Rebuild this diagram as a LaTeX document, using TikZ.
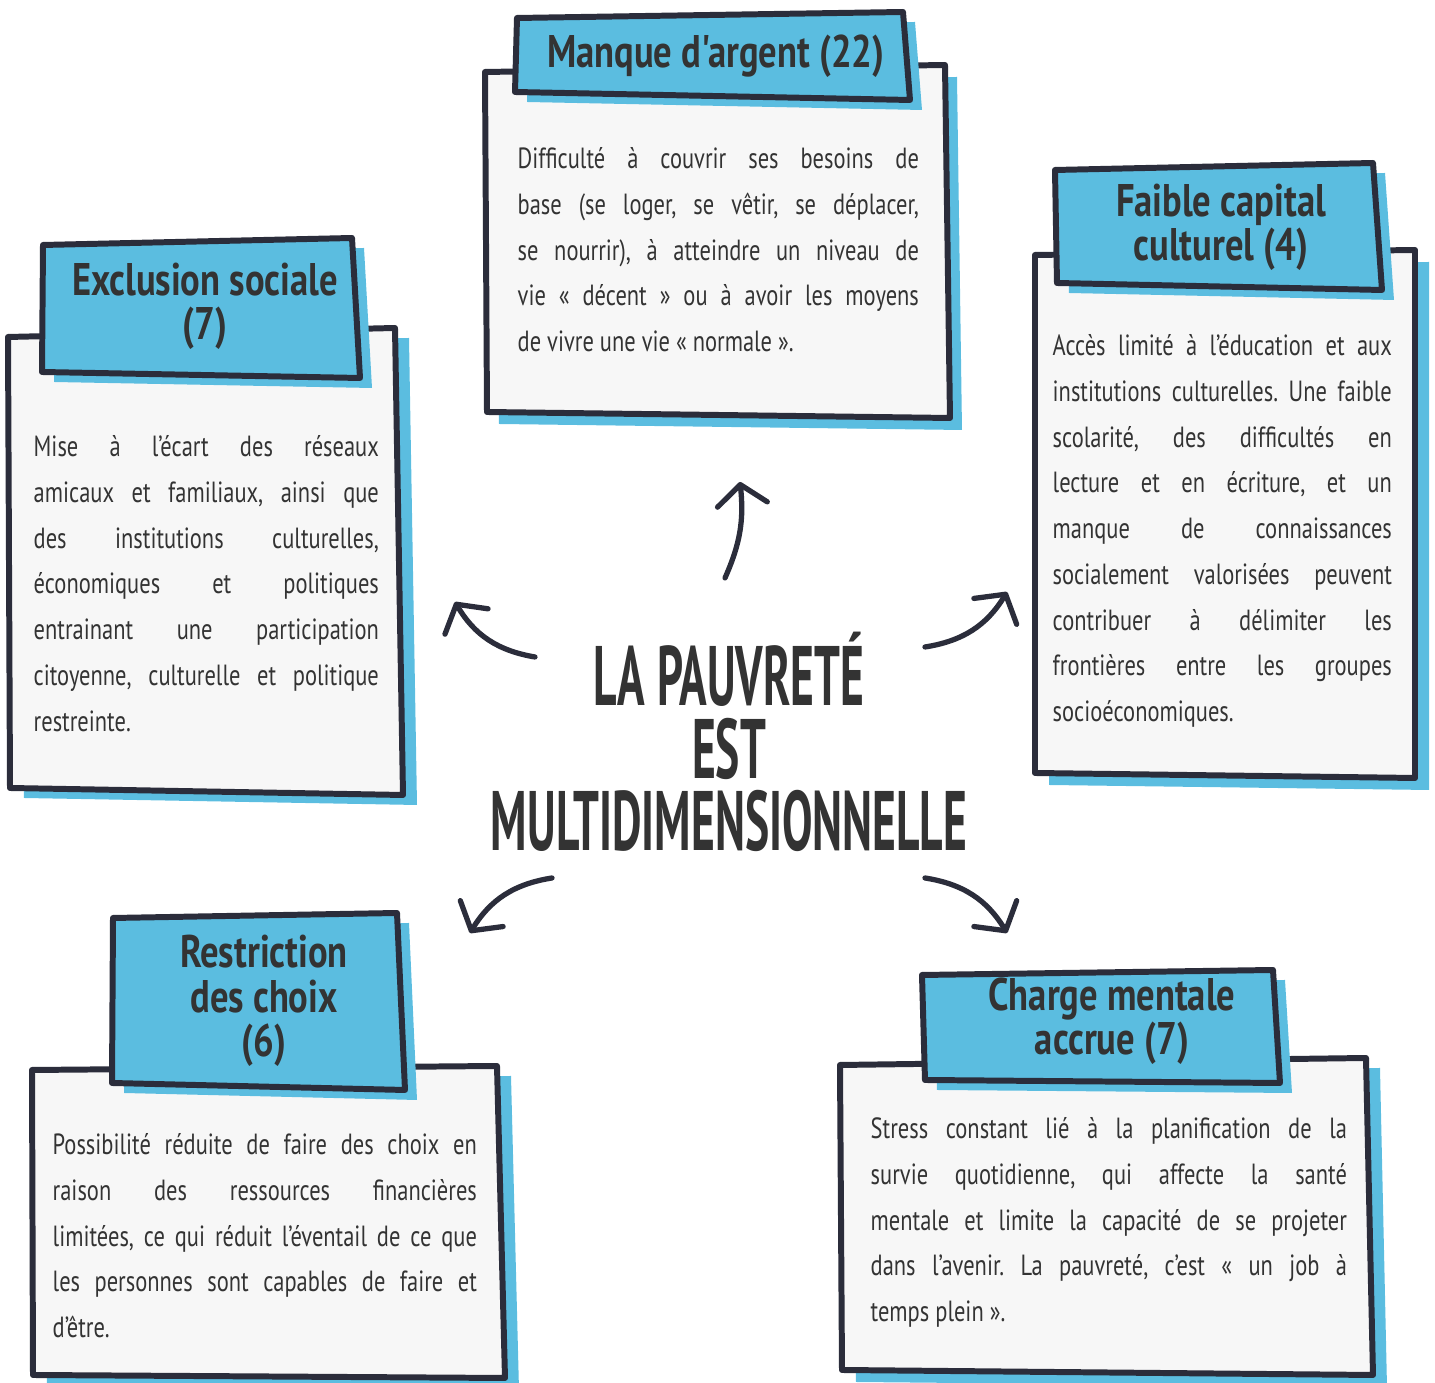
\documentclass[tikz,border=0pt]{standalone}
\usepackage{fontspec}
\setmainfont[FakeStretch=0.77]{PT Sans}
\newfontfamily\headfont[FakeStretch=0.8]{PT Sans}
\newfontfamily\bigfont[FakeStretch=0.54]{PT Sans}
\usepackage{xcolor}
\definecolor{ink}{HTML}{2B2D3B}
\definecolor{txt}{HTML}{333333}
\definecolor{sky}{HTML}{5BBDE0}
\definecolor{paper}{HTML}{F7F7F7}
\usetikzlibrary{arrows.meta}
\frenchspacing

\begin{document}
\begin{tikzpicture}[x=0.01cm, y=-0.01cm,
        card/.style={draw=ink, fill=paper, line width=1.7pt, line join=round},
        tab/.style={draw=ink, fill=sky, line width=1.7pt, line join=round},
        shade/.style={fill=sky},
        head/.style={text=txt, font=\headfont\bfseries\fontsize{13}{12.6}\selectfont, align=center},
        body/.style={text=txt, font=\fontsize{8.3}{13}\selectfont, align=justify, inner sep=0pt, anchor=north west},
        spoke/.style={draw=ink, line width=1.5pt, line cap=round, -{Straight Barb[length=2mm, width=5mm, round]}}]
        \useasboundingbox (0,0) rectangle (1435,1383);
        % Manque d'argent
        \fill[shade] (497,84) -- (957,77) -- (962,430) -- (499,424) -- cycle;
        \draw[card] (485,72) -- (945,65) -- (950,418) -- (487,412) -- cycle;
        \fill[shade] (529,28) -- (915,22) -- (922,110) -- (527,102) -- cycle;
        \draw[tab] (517,18) -- (903,12) -- (910,100) -- (515,92) -- cycle;
        \node[head] (argentT) at (716,56) {Manque d'argent (22)};
        \node[body, text width=4.01cm] (argentB) at (517,147) {Difficulté à couvrir ses besoins de\linebreak base (se loger, se vêtir, se déplacer,\linebreak se nourrir), à atteindre un niveau de\linebreak vie « décent » ou à avoir les moyens\linebreak de vivre une vie « normale ».};
        % Exclusion sociale
        \fill[shade] (22,347) -- (409,338) -- (417,805) -- (24,798) -- cycle;
        \draw[card] (8,337) -- (395,328) -- (403,795) -- (10,788) -- cycle;
        \fill[shade] (55,255) -- (364,248) -- (372,388) -- (54,382) -- cycle;
        \draw[tab] (43,245) -- (352,238) -- (360,378) -- (42,372) -- cycle;
        \node[head] (socialT) at (205,306) {Exclusion sociale\\(7)};
        \node[body, text width=3.45cm] (socialB) at (33,435) {Mise à l'écart des réseaux\linebreak amicaux et familiaux, ainsi que\linebreak des institutions culturelles,\linebreak économiques et politiques\linebreak entrainant une participation\linebreak citoyenne, culturelle et politique\linebreak restreinte.};
        % Faible capital culturel
        \fill[shade] (1049,267) -- (1429,262) -- (1429,790) -- (1049,785) -- cycle;
        \draw[card] (1035,255) -- (1415,250) -- (1415,778) -- (1035,773) -- cycle;
        \fill[shade] (1067,180) -- (1385,173) -- (1394,300) -- (1069,293) -- cycle;
        \draw[tab] (1055,170) -- (1373,163) -- (1382,290) -- (1057,283) -- cycle;
        \node[head] (cultureT) at (1221,227) {Faible capital\\culturel (4)};
        \node[body, text width=3.39cm] (cultureB) at (1052,334) {Accès limité à l'éducation et aux\linebreak institutions culturelles. Une faible\linebreak scolarité, des difficultés en\linebreak lecture et en écriture, et un\linebreak manque de connaissances\linebreak socialement valorisées peuvent\linebreak contribuer à délimiter les\linebreak frontières entre les groupes\linebreak socioéconomiques.};
        % Restriction des choix
        \fill[shade] (46,1080) -- (511,1076) -- (519,1390) -- (47,1387) -- cycle;
        \draw[card] (32,1070) -- (497,1066) -- (505,1378) -- (33,1375) -- cycle;
        \fill[shade] (125,928) -- (409,923) -- (417,1100) -- (124,1093) -- cycle;
        \draw[tab] (113,918) -- (397,913) -- (405,1090) -- (112,1083) -- cycle;
        \node[head] (choixT) at (264,1001) {Restriction\\des choix\\(6)};
        \node[body, text width=4.24cm] (choixB) at (52,1133) {Possibilité réduite de faire des choix en\linebreak raison des ressources financières\linebreak limitées, ce qui réduit l'éventail de ce que\linebreak les personnes sont capables de faire et\linebreak d'être.};
        % Charge mentale accrue
        \fill[shade] (854,1075) -- (1380,1068) -- (1387,1387) -- (856,1382) -- cycle;
        \draw[card] (840,1065) -- (1366,1058) -- (1373,1375) -- (842,1370) -- cycle;
        \fill[shade] (934,985) -- (1285,980) -- (1292,1093) -- (937,1090) -- cycle;
        \draw[tab] (922,975) -- (1273,970) -- (1280,1083) -- (925,1080) -- cycle;
        \node[head] (mentaleT) at (1112,1021) {Charge mentale\\accrue (7)};
        \node[body, text width=4.76cm] (mentaleB) at (870,1117) {Stress constant lié à la planification de la\linebreak survie quotidienne, qui affecte la santé\linebreak mentale et limite la capacité de se projeter\linebreak dans l'avenir. La pauvreté, c'est « un job à\linebreak temps plein ».};
        % centre
        \node[text=txt, font=\bigfont\bfseries\fontsize{24}{20.6}\selectfont, align=center] (pauvrete) at (729,742) {LA PAUVRETÉ\\EST\\MULTIDIMENSIONNELLE};
        \coordinate (upS) at (725,578);  \coordinate (upE) at (740,482);
        \coordinate (ulS) at (535,657);  \coordinate (ulE) at (455,602);
        \coordinate (urS) at (925,647);  \coordinate (urE) at (1007,592);
        \coordinate (llS) at (552,878);  \coordinate (llE) at (470,933);
        \coordinate (lrS) at (925,878);  \coordinate (lrE) at (1007,933);
        \draw[spoke] (upS) to[bend right=15] (upE);
        \draw[spoke] (ulS) to[bend left=25] (ulE);
        \draw[spoke] (urS) to[bend right=25] (urE);
        \draw[spoke] (llS) to[bend right=25] (llE);
        \draw[spoke] (lrS) to[bend left=25] (lrE);
    \end{tikzpicture}
\end{document}
